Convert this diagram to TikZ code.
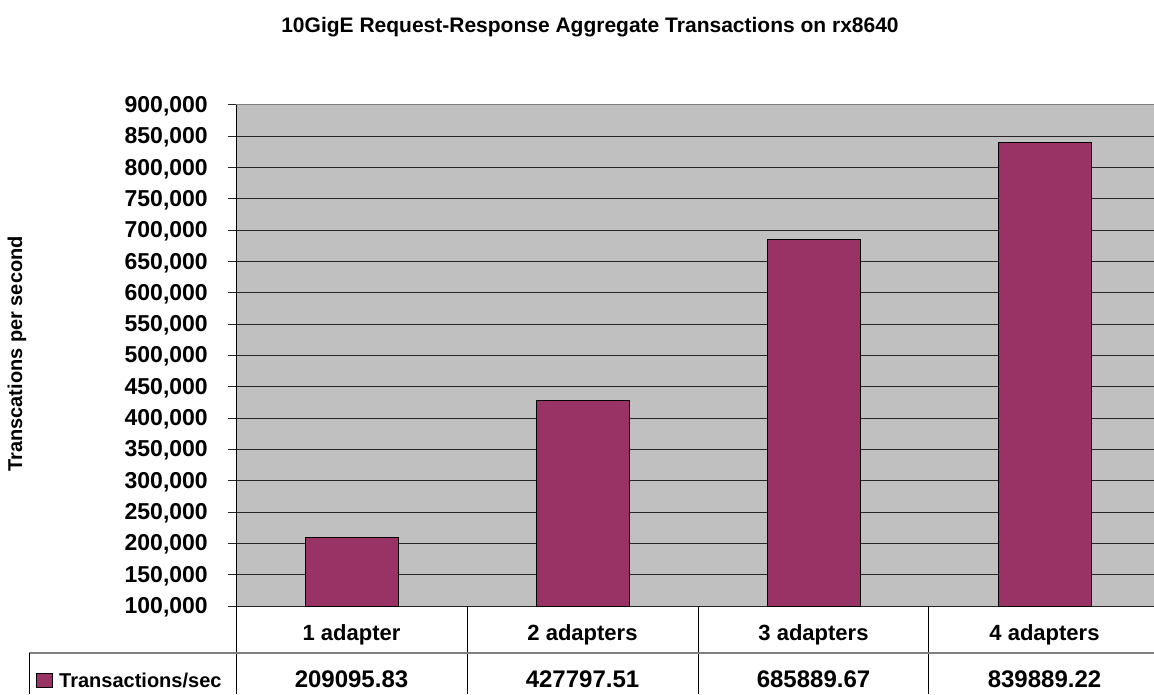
\documentclass[tikz,border=0pt]{standalone}
\usepackage{fontspec}
\setmainfont{Liberation Sans}
\usetikzlibrary{positioning}
\definecolor{barplum}{RGB}{153,51,102}
\definecolor{plotgray}{RGB}{192,192,192}
\definecolor{rulegray}{RGB}{128,128,128}

\begin{document}
\begin{tikzpicture}[x=1pt,y=1pt,
		bar/.style={draw=black,fill=barplum,line width=0.8pt},
		grid/.style={draw=black!85,line width=1pt},
		ylab/.style={anchor=base east,inner sep=0pt,font=\fontsize{23}{27}\selectfont\bfseries},
		catlab/.style={anchor=base,inner sep=0pt,font=\fontsize{22}{26}\selectfont\bfseries},
		vallab/.style={anchor=base,inner sep=0pt,font=\fontsize{24}{28}\selectfont\bfseries}]
	\useasboundingbox (0,0) rectangle (1154,694);
	\clip (0,0) rectangle (1154,694);

	% title and axis title
	\node[anchor=base,inner sep=0pt,font=\fontsize{21}{25}\selectfont\bfseries] (title) at (590,661)
		{10GigE Request-Response Aggregate Transactions on rx8640};
	\node[anchor=base,rotate=90,inner sep=0pt,font=\fontsize{20}{24}\selectfont\bfseries] (ytitle) at (22,340)
		{Transcations per second};

	% plot area
	\fill[plotgray] (236,88) rectangle (1160,589);
	\foreach \k in {0,...,16}{
		\pgfmathsetmacro\yy{88+\k*31.3125}
		\pgfmathtruncatemacro\vv{100+50*\k}
		\ifnum\k<16
			\draw[grid] (228,\yy) -- (1160,\yy);
		\else
			\draw[grid] (228,\yy) -- (236,\yy);
			\draw[rulegray,line width=1pt] (236,\yy) -- (1160,\yy);
		\fi
		\node[ylab] (tick\k) at (208,\yy-7.5) {\vv,000};
	}

	% bars
	\foreach \i/\vv in {1/209.09583,2/427.79751,3/685.88967,4/839.88922}{
		\pgfmathsetmacro\xc{236+231*(\i-0.5)}
		\pgfmathsetmacro\yt{88+(\vv-100)/50*31.3125}
		\draw[bar] (\xc-46.5,88) rectangle (\xc+46.5,\yt);
	}

	% data table
	\draw[black,line width=1pt] (236,589) -- (236,0);
	\foreach \xx in {467,698,928}
		\draw[black,line width=1pt] (\xx,88) -- (\xx,0);
	\draw[rulegray,line width=1.2pt] (29,41) -- (1160,41);
	\draw[black,line width=1pt] (29,41) -- (29,0);
	\foreach \i/\cat/\num in {1/1 adapter/209095.83,2/2 adapters/427797.51,
			3/3 adapters/685889.67,4/4 adapters/839889.22}{
		\pgfmathsetmacro\xc{236+231*(\i-0.5)}
		\node[catlab] (cat\i) at (\xc,54) {\cat};
		\node[vallab] (val\i) at (\xc,7) {\num};
	}

	% legend key
	\draw[bar] (36,7) rectangle (52,21);
	\node[anchor=base west,inner sep=0pt,font=\fontsize{20}{24}\selectfont\bfseries] (key) at (59,7)
		{Transactions/sec};
\end{tikzpicture}
\end{document}
